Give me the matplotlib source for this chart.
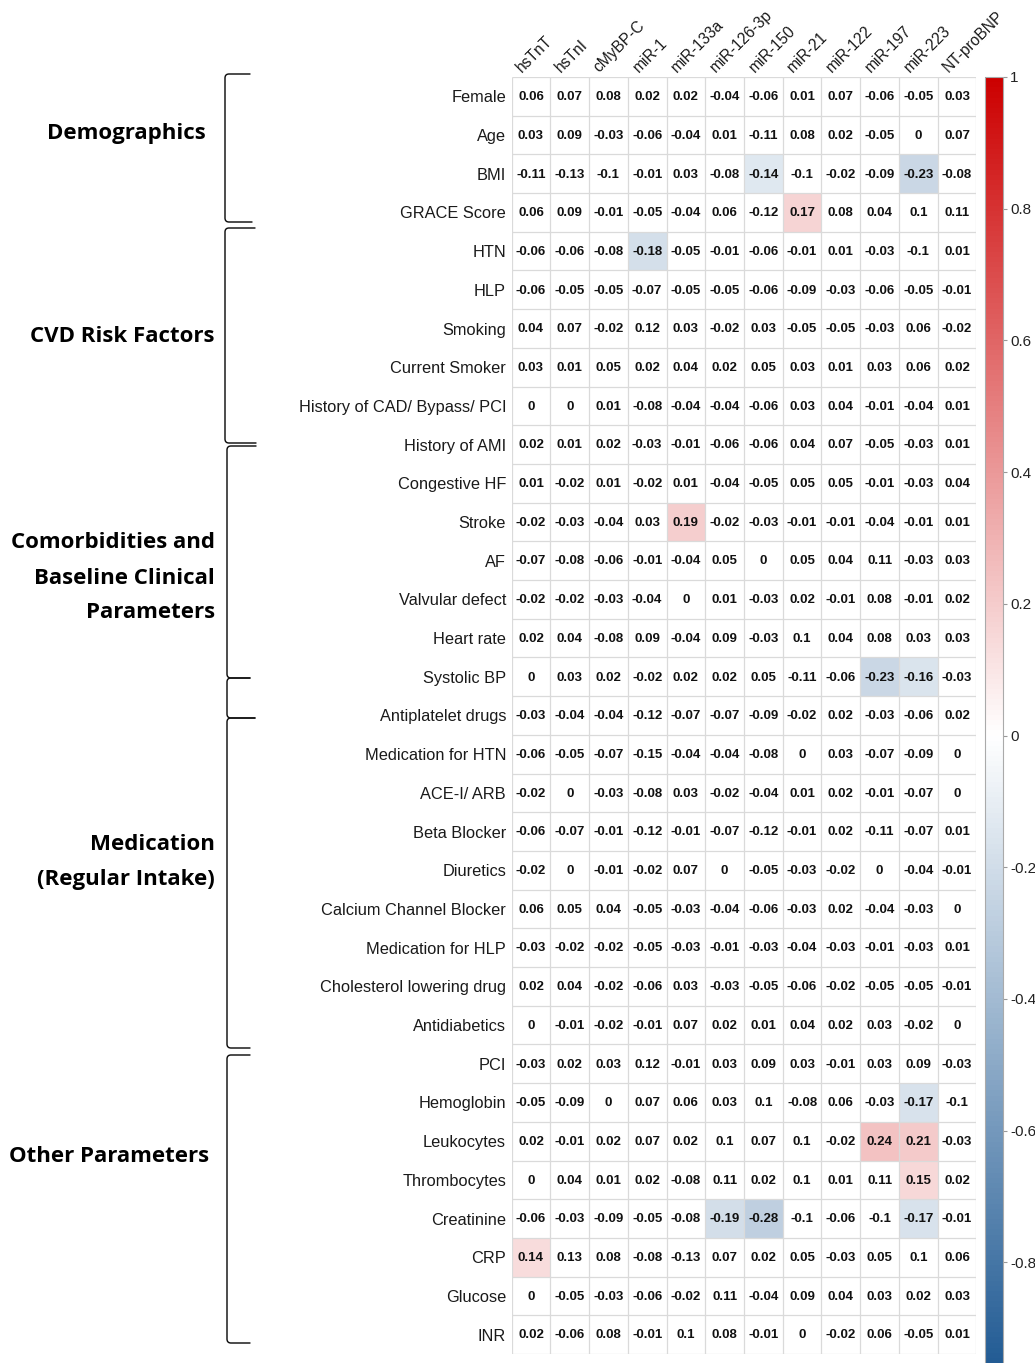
import numpy as np
import matplotlib
matplotlib.use("Agg")
import matplotlib.pyplot as plt
from matplotlib.colors import LinearSegmentedColormap, Normalize
from matplotlib.cm import ScalarMappable
from matplotlib.path import Path
from matplotlib.patches import PathPatch

# ---------------- data ----------------
columns = ["hsTnT", "hsTnI", "cMyBP-C", "miR-1", "miR-133a", "miR-126-3p",
           "miR-150", "miR-21", "miR-122", "miR-197", "miR-223", "NT-proBNP"]

demographics_rows = ["Female", "Age", "BMI", "GRACE Score"]
demographics_vals = [
    [0.06, 0.07, 0.08, 0.02, 0.02, -0.04, -0.06, 0.01, 0.07, -0.06, -0.05, 0.03],
    [0.03, 0.09, -0.03, -0.06, -0.04, 0.01, -0.11, 0.08, 0.02, -0.05, 0, 0.07],
    [-0.11, -0.13, -0.1, -0.01, 0.03, -0.08, -0.14, -0.1, -0.02, -0.09, -0.23, -0.08],
    [0.06, 0.09, -0.01, -0.05, -0.04, 0.06, -0.12, 0.17, 0.08, 0.04, 0.1, 0.11],
]

risk_rows = ["HTN", "HLP", "Smoking", "Current Smoker", "History of CAD/ Bypass/ PCI"]
risk_vals = [
    [-0.06, -0.06, -0.08, -0.18, -0.05, -0.01, -0.06, -0.01, 0.01, -0.03, -0.1, 0.01],
    [-0.06, -0.05, -0.05, -0.07, -0.05, -0.05, -0.06, -0.09, -0.03, -0.06, -0.05, -0.01],
    [0.04, 0.07, -0.02, 0.12, 0.03, -0.02, 0.03, -0.05, -0.05, -0.03, 0.06, -0.02],
    [0.03, 0.01, 0.05, 0.02, 0.04, 0.02, 0.05, 0.03, 0.01, 0.03, 0.06, 0.02],
    [0, 0, 0.01, -0.08, -0.04, -0.04, -0.06, 0.03, 0.04, -0.01, -0.04, 0.01],
]

comorbid_rows = ["History of AMI", "Congestive HF", "Stroke", "AF", "Valvular defect",
                 "Heart rate", "Systolic BP"]
comorbid_vals = [
    [0.02, 0.01, 0.02, -0.03, -0.01, -0.06, -0.06, 0.04, 0.07, -0.05, -0.03, 0.01],
    [0.01, -0.02, 0.01, -0.02, 0.01, -0.04, -0.05, 0.05, 0.05, -0.01, -0.03, 0.04],
    [-0.02, -0.03, -0.04, 0.03, 0.19, -0.02, -0.03, -0.01, -0.01, -0.04, -0.01, 0.01],
    [-0.07, -0.08, -0.06, -0.01, -0.04, 0.05, 0, 0.05, 0.04, 0.11, -0.03, 0.03],
    [-0.02, -0.02, -0.03, -0.04, 0, 0.01, -0.03, 0.02, -0.01, 0.08, -0.01, 0.02],
    [0.02, 0.04, -0.08, 0.09, -0.04, 0.09, -0.03, 0.1, 0.04, 0.08, 0.03, 0.03],
    [0, 0.03, 0.02, -0.02, 0.02, 0.02, 0.05, -0.11, -0.06, -0.23, -0.16, -0.03],
]

medication_rows = ["Antiplatelet drugs", "Medication for HTN", "ACE-I/ ARB", "Beta Blocker",
                   "Diuretics", "Calcium Channel Blocker", "Medication for HLP",
                   "Cholesterol lowering drug", "Antidiabetics"]
medication_vals = [
    [-0.03, -0.04, -0.04, -0.12, -0.07, -0.07, -0.09, -0.02, 0.02, -0.03, -0.06, 0.02],
    [-0.06, -0.05, -0.07, -0.15, -0.04, -0.04, -0.08, 0, 0.03, -0.07, -0.09, 0],
    [-0.02, 0, -0.03, -0.08, 0.03, -0.02, -0.04, 0.01, 0.02, -0.01, -0.07, 0],
    [-0.06, -0.07, -0.01, -0.12, -0.01, -0.07, -0.12, -0.01, 0.02, -0.11, -0.07, 0.01],
    [-0.02, 0, -0.01, -0.02, 0.07, 0, -0.05, -0.03, -0.02, 0, -0.04, -0.01],
    [0.06, 0.05, 0.04, -0.05, -0.03, -0.04, -0.06, -0.03, 0.02, -0.04, -0.03, 0],
    [-0.03, -0.02, -0.02, -0.05, -0.03, -0.01, -0.03, -0.04, -0.03, -0.01, -0.03, 0.01],
    [0.02, 0.04, -0.02, -0.06, 0.03, -0.03, -0.05, -0.06, -0.02, -0.05, -0.05, -0.01],
    [0, -0.01, -0.02, -0.01, 0.07, 0.02, 0.01, 0.04, 0.02, 0.03, -0.02, 0],
]

other_rows = ["PCI", "Hemoglobin", "Leukocytes", "Thrombocytes", "Creatinine", "CRP",
              "Glucose", "INR"]
other_vals = [
    [-0.03, 0.02, 0.03, 0.12, -0.01, 0.03, 0.09, 0.03, -0.01, 0.03, 0.09, -0.03],
    [-0.05, -0.09, 0, 0.07, 0.06, 0.03, 0.1, -0.08, 0.06, -0.03, -0.17, -0.1],
    [0.02, -0.01, 0.02, 0.07, 0.02, 0.1, 0.07, 0.1, -0.02, 0.24, 0.21, -0.03],
    [0, 0.04, 0.01, 0.02, -0.08, 0.11, 0.02, 0.1, 0.01, 0.11, 0.15, 0.02],
    [-0.06, -0.03, -0.09, -0.05, -0.08, -0.19, -0.28, -0.1, -0.06, -0.1, -0.17, -0.01],
    [0.14, 0.13, 0.08, -0.08, -0.13, 0.07, 0.02, 0.05, -0.03, 0.05, 0.1, 0.06],
    [0, -0.05, -0.03, -0.06, -0.02, 0.11, -0.04, 0.09, 0.04, 0.03, 0.02, 0.03],
    [0.02, -0.06, 0.08, -0.01, 0.1, 0.08, -0.01, 0, -0.02, 0.06, -0.05, 0.01],
]

# cells that are drawn coloured (significant correlations)
significant_cells = [
    ("BMI", "miR-150"), ("BMI", "miR-223"), ("GRACE Score", "miR-21"),
    ("HTN", "miR-1"), ("Stroke", "miR-133a"), ("Systolic BP", "miR-197"),
    ("Systolic BP", "miR-223"), ("Hemoglobin", "miR-223"), ("Leukocytes", "miR-197"),
    ("Leukocytes", "miR-223"), ("Thrombocytes", "miR-223"), ("Creatinine", "miR-126-3p"),
    ("Creatinine", "miR-150"), ("Creatinine", "miR-223"), ("CRP", "hsTnT"),
]

group_labels = [
    (["Demographics"], [133], 206),
    (["CVD Risk Factors"], [336], 215),
    (["Comorbidities and", "Baseline Clinical", "Parameters"], [542, 578, 613], 215),
    (["Medication", "(Regular Intake)"], [844, 879], 215),
    (["Other Parameters"], [1157], 209),
]

colorbar_ticks = [-0.8, -0.6, -0.4, -0.2, 0, 0.2, 0.4, 0.6, 0.8, 1]

# ---------------- build ----------------
rows = demographics_rows + risk_rows + comorbid_rows + medication_rows + other_rows
vals = np.array(demographics_vals + risk_vals + comorbid_vals + medication_vals + other_vals,
                dtype=float)
nrow, ncol = vals.shape
mask = np.zeros_like(vals, dtype=bool)
for r, c in significant_cells:
    mask[rows.index(r), columns.index(c)] = True
shown = np.ma.masked_where(~mask, vals)

W, H = 1035, 1363
fig = plt.figure(figsize=(W / 100, H / 100), dpi=100)
fig.patch.set_facecolor("white")


def fx(x):
    return x / W


def fy(y):
    return 1 - y / H


grid_l, grid_r, grid_t, grid_b = 511.6, 976.4, 77.0, 1354.0
ax = fig.add_axes([fx(grid_l), fy(grid_b), (grid_r - grid_l) / W, (grid_b - grid_t) / H])

cmap = LinearSegmentedColormap.from_list("rb", ["#18548F", "#FFFFFF", "#CC0000"])
cmap.set_bad((1, 1, 1, 0))
norm = Normalize(-1, 1)

ax.pcolormesh(np.arange(ncol + 1), np.arange(nrow + 1), shown, cmap=cmap, norm=norm,
              shading="flat")
ax.set_xlim(0, ncol)
ax.set_ylim(nrow, 0)
grid_color = "#DADADA"
ax.hlines(np.arange(nrow + 1), 0, ncol, color=grid_color, lw=0.9, zorder=2)
ax.vlines(np.arange(ncol + 1), 0, nrow, color=grid_color, lw=0.9, zorder=2)
for s in ax.spines.values():
    s.set_visible(False)

val_font = ["Liberation Sans Narrow", "Liberation Sans", "DejaVu Sans"]


def fmt(v):
    s = f"{v:.2f}".rstrip("0").rstrip(".")
    if s in ("-0", ""):
        s = "0"
    return s


for i in range(nrow):
    for j in range(ncol):
        ax.text(j + 0.5, i + 0.52, fmt(vals[i, j]), ha="center", va="center",
                fontsize=9.5, fontweight="bold", family=val_font, color="#111111",
                zorder=3)

ax.set_yticks(np.arange(nrow) + 0.5)
ax.set_yticklabels(rows, fontsize=11.8, family=["Liberation Sans", "DejaVu Sans"],
                   color="#1A1A1A")
ax.set_xticks([])
ax.tick_params(axis="y", length=0, pad=4)

for j, c in enumerate(columns):
    ax.text(j + 0.33, -0.05, c, rotation=45, ha="left", va="bottom",
            rotation_mode="anchor", fontsize=11.2,
            family=["Liberation Sans", "DejaVu Sans"], color="#1A1A1A",
            clip_on=False)

# colorbar
cb_top, cb_bot = 77.0, 1394.0
cax = fig.add_axes([fx(985), fy(cb_bot), 18 / W, (cb_bot - cb_top) / H])
cb = fig.colorbar(ScalarMappable(norm=norm, cmap=cmap), cax=cax, ticks=colorbar_ticks)
cb.outline.set_edgecolor("#AAAAAA")
cb.outline.set_linewidth(0.8)
cb.ax.set_yticklabels([fmt(t) for t in colorbar_ticks])
cb.ax.tick_params(length=3, width=0.8, color="#999999", pad=2, labelsize=11,
                  labelcolor="#222222")
for t in cb.ax.get_yticklabels():
    t.set_family(["Liberation Sans", "DejaVu Sans"])

# overlay for brackets and group labels
ov = fig.add_axes([0, 0, 1, 1], zorder=5)
ov.set_xlim(0, W)
ov.set_ylim(H, 0)
ov.axis("off")
ov.patch.set_alpha(0)


def bracket(xv, ytop, ybot, xend_top, xend_bot, r=4):
    verts = [(xend_top, ytop), (xv + r, ytop), (xv, ytop), (xv, ytop + r),
             (xv, ybot - r), (xv, ybot), (xv + r, ybot), (xend_bot, ybot)]
    codes = [Path.MOVETO, Path.LINETO, Path.CURVE3, Path.CURVE3,
             Path.LINETO, Path.CURVE3, Path.CURVE3, Path.LINETO]
    ov.add_patch(PathPatch(Path(verts, codes), fill=False, lw=1.05, edgecolor="#111111",
                           capstyle="round"))


bracket(225, 74, 222, 250, 252)
bracket(225, 228, 443, 255, 256)
bracket(227, 446, 678, 256, 250)
bracket(227, 678, 718, 250, 255)
bracket(227, 718, 1048, 255, 250)
bracket(227, 1055, 1343, 250, 250)

for lines, ys, xr in group_labels:
    for line, y in zip(lines, ys):
        ov.text(xr, y, line, ha="right", va="center", fontsize=16, fontweight="bold",
                family=["Open Sans", "DejaVu Sans"], color="#000000")

fig.savefig("out.png", dpi=100, facecolor="white")
